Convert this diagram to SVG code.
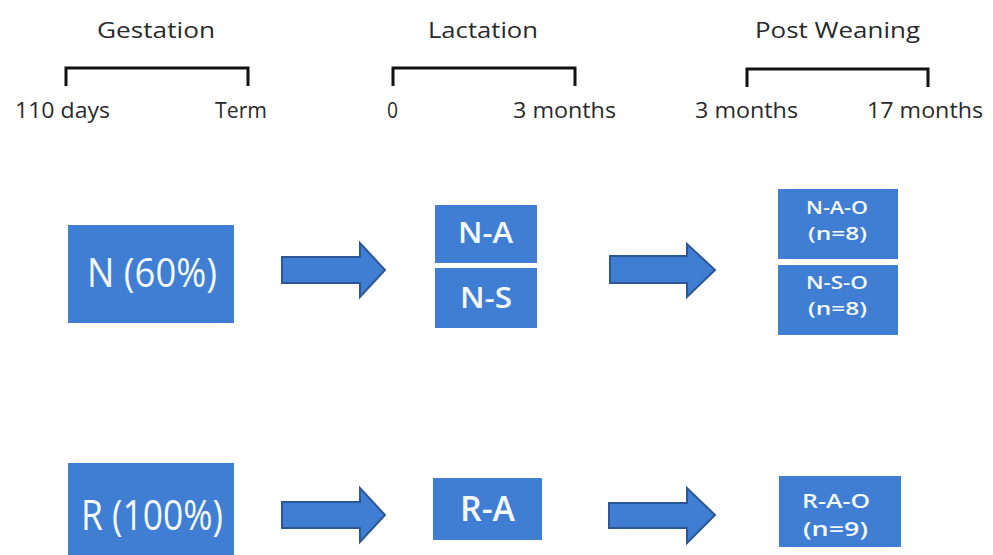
<svg xmlns="http://www.w3.org/2000/svg" width="993" height="555" viewBox="0 0 993 555">
<style>
.hdr{font-family:"Open Sans","Noto Sans","Liberation Sans",sans-serif;font-size:21px;fill:#2a2a2a}
.box{fill:#3f7ed3}
.t{font-family:"Open Sans","Noto Sans","Liberation Sans",sans-serif;fill:#f4f9ff;font-weight:600}
.t.big{font-weight:400}
.br{fill:none;stroke:#111;stroke-width:3}
.arr{fill:#3f7ed3;stroke:#2c5796;stroke-width:2;stroke-linejoin:miter}
</style>
<rect width="993" height="555" fill="#fff"/>
<g id="timeline">
  <g id="gestation">
    <text class="hdr" x="97" y="38" textLength="118" lengthAdjust="spacingAndGlyphs">Gestation</text>
    <path class="br" d="M66,86 V68 H248 V86"/>
    <text class="hdr" x="15" y="118" textLength="95" lengthAdjust="spacingAndGlyphs">110 days</text>
    <text class="hdr" x="215" y="118" textLength="52" lengthAdjust="spacingAndGlyphs">Term</text>
  </g>
  <g id="lactation">
    <text class="hdr" x="428" y="38" textLength="110" lengthAdjust="spacingAndGlyphs">Lactation</text>
    <path class="br" d="M393,86 V68 H575 V86"/>
    <text class="hdr" x="387" y="118" textLength="11" lengthAdjust="spacingAndGlyphs">0</text>
    <text class="hdr" x="513" y="118" textLength="103" lengthAdjust="spacingAndGlyphs">3 months</text>
  </g>
  <g id="postweaning">
    <text class="hdr" x="755" y="38" textLength="165" lengthAdjust="spacingAndGlyphs">Post Weaning</text>
    <path class="br" d="M747,87 V69 H928 V87"/>
    <text class="hdr" x="695" y="118" textLength="103" lengthAdjust="spacingAndGlyphs">3 months</text>
    <text class="hdr" x="867" y="118" textLength="116" lengthAdjust="spacingAndGlyphs">17 months</text>
  </g>
</g>
<g id="connectors">
  <path class="arr" d="M282,257 H360 V243 L385,270 L360,297 V283 H282 Z"/>
  <path class="arr" d="M610,256 H687 V244 L715,270 L687,297 V283 H610 Z"/>
  <path class="arr" d="M282,502 H360 V488 L385,515 L360,542 V528 H282 Z"/>
  <path class="arr" d="M609,503 H687 V488 L715,515 L687,543 V528 H609 Z"/>
</g>
<g id="N">
  <rect class="box" x="68" y="225" width="166" height="98"/>
  <text class="t big" x="87" y="287" font-size="40" textLength="130" lengthAdjust="spacingAndGlyphs">N (60%)</text>
</g>
<g id="R">
  <rect class="box" x="68" y="463" width="166" height="92"/>
  <text class="t big" x="81" y="530" font-size="42" textLength="142" lengthAdjust="spacingAndGlyphs">R (100%)</text>
</g>
<g id="N-A">
  <rect class="box" x="435" y="205" width="102" height="58"/>
  <text class="t" x="458" y="243" font-size="28" textLength="55" lengthAdjust="spacingAndGlyphs">N-A</text>
</g>
<g id="N-S">
  <rect class="box" x="435" y="268" width="102" height="60"/>
  <text class="t" x="460" y="308" font-size="28" textLength="52" lengthAdjust="spacingAndGlyphs">N-S</text>
</g>
<g id="R-A">
  <rect class="box" x="433" y="478" width="109" height="62"/>
  <text class="t" x="460" y="521" font-size="35" textLength="55" lengthAdjust="spacingAndGlyphs">R-A</text>
</g>
<g id="N-A-O">
  <rect class="box" x="778" y="189" width="120" height="70"/>
  <text class="t" x="806" y="214" font-size="18" textLength="62" lengthAdjust="spacingAndGlyphs">N-A-O</text>
  <text class="t" x="808" y="240" font-size="18" textLength="59" lengthAdjust="spacingAndGlyphs">(n=8)</text>
</g>
<g id="N-S-O">
  <rect class="box" x="778" y="265" width="120" height="70"/>
  <text class="t" x="806" y="289" font-size="18" textLength="62" lengthAdjust="spacingAndGlyphs">N-S-O</text>
  <text class="t" x="808" y="315" font-size="18" textLength="59" lengthAdjust="spacingAndGlyphs">(n=8)</text>
</g>
<g id="R-A-O">
  <rect class="box" x="779" y="476" width="122" height="71"/>
  <text class="t" x="802" y="508" font-size="19" textLength="68" lengthAdjust="spacingAndGlyphs">R-A-O</text>
  <text class="t" x="803" y="536" font-size="19" textLength="65" lengthAdjust="spacingAndGlyphs">(n=9)</text>
</g>
</svg>
